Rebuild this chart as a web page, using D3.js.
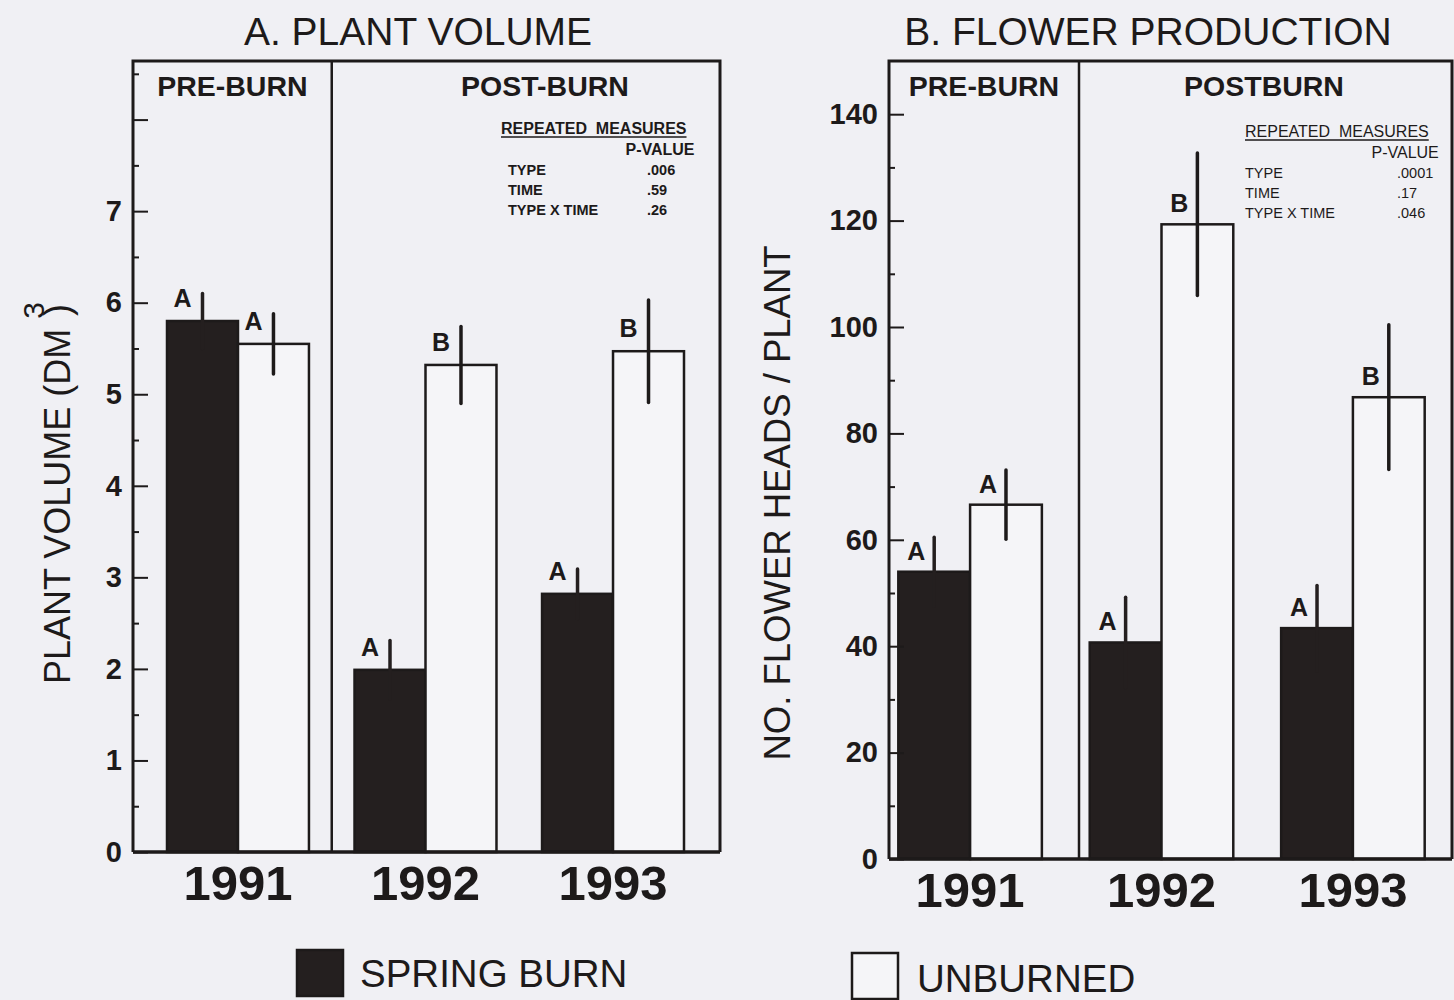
<!DOCTYPE html>
<html>
<head>
<meta charset="utf-8">
<script src="https://cdn.jsdelivr.net/npm/d3@7"></script>
<style>
  html, body { margin: 0; padding: 0; background: #f0f0f4; }
  svg { display: block; }
  text { font-family: "Liberation Sans", Arial, sans-serif; fill: #1d1a1a; }
</style>
</head>
<body>
<svg id="chart" width="1454" height="1000"></svg>
<script>
// ---- data -------------------------------------------------------------
const years = ["1991", "1992", "1993"];
const treatments = ["SPRING BURN", "UNBURNED"];

// A. plant volume (dm^3), means and standard errors
const volumeSpring      = [5.80, 1.99, 2.82];
const volumeSpringSE    = [0.30, 0.32, 0.27];
const volumeUnburned    = [5.55, 5.32, 5.47];
const volumeUnburnedSE  = [0.33, 0.42, 0.56];
const volumeLettersSpring   = ["A", "A", "A"];
const volumeLettersUnburned = ["A", "B", "B"];
const volumeTicks = [0, 1, 2, 3, 4, 5, 6, 7];

// B. flower heads per plant, means and standard errors
const flowerSpring      = [54.0, 40.7, 43.4];
const flowerSpringSE    = [6.5, 8.5, 8.0];
const flowerUnburned    = [66.6, 119.3, 86.8];
const flowerUnburnedSE  = [6.5, 13.4, 13.6];
const flowerLettersSpring   = ["A", "A", "A"];
const flowerLettersUnburned = ["A", "B", "B"];
const flowerTicks = [0, 20, 40, 60, 80, 100, 120, 140];

// repeated-measures ANOVA p-values
const effects = ["TYPE", "TIME", "TYPE X TIME"];
const volumePValues = [".006", ".59", ".26"];
const flowerPValues = [".0001", ".17", ".046"];

// ---- drawing ----------------------------------------------------------
const INK = "#1d1a1a";
const BAR_DARK = "#241f1f";
const BAR_LIGHT = "#f5f5f8";
const svg = d3.select("#chart");

function drawPanel(cfg) {
  const g = svg.append("g");
  const y = d3.scaleLinear().domain([0, cfg.yMax]).range([cfg.bottom, cfg.top]);
  const x = d3.scaleBand().domain(years).range(cfg.bandRange)
    .paddingInner(cfg.padInner).paddingOuter(cfg.padOuter);
  const xs = d3.scaleBand().domain(treatments).range([0, x.bandwidth()]);

  // title
  g.append("text").attr("x", cfg.titleX).attr("y", 45)
    .attr("text-anchor", "middle").style("font-size", "39px")
    .text(cfg.title);

  // rows of bars
  const rows = years.map((yr, i) => ([
    { year: yr, t: treatments[0], v: cfg.spring[i], se: cfg.springSE[i], letter: cfg.lettersSpring[i] },
    { year: yr, t: treatments[1], v: cfg.unburned[i], se: cfg.unburnedSE[i], letter: cfg.lettersUnburned[i] }
  ])).flat();
  const cx = d => x(d.year) + xs(d.t) + xs.bandwidth() / 2;

  g.selectAll("rect.bar").data(rows).join("rect")
    .attr("class", "bar")
    .attr("x", d => x(d.year) + xs(d.t))
    .attr("y", d => y(d.v))
    .attr("width", xs.bandwidth())
    .attr("height", d => y(0) - y(d.v))
    .attr("fill", d => d.t === treatments[0] ? BAR_DARK : BAR_LIGHT)
    .attr("stroke", INK)
    .attr("stroke-width", 2.5);

  // error bars (vertical lines only)
  g.selectAll("line.err").data(rows).join("line")
    .attr("class", "err")
    .attr("x1", cx).attr("x2", cx)
    .attr("y1", d => y(d.v - d.se))
    .attr("y2", d => y(d.v + d.se))
    .attr("stroke", d => d.t === treatments[0] ? BAR_DARK : INK)
    .attr("stroke-width", 3.5).attr("stroke-linecap", "round");

  // significance letters
  g.selectAll("text.letter").data(rows).join("text")
    .attr("class", "letter")
    .attr("x", d => cx(d) - cfg.letterDx)
    .attr("y", d => y(d.v) - cfg.letterDy)
    .attr("text-anchor", "end")
    .style("font-size", "25px").style("font-weight", "bold")
    .text(d => d.letter);

  // axis: major labelled ticks and minor ticks, pointing inward
  const major = d3.axisLeft(y).tickValues(cfg.ticks).tickSizeInner(-15).tickSizeOuter(0).tickPadding(11);
  const ax = g.append("g").attr("transform", `translate(${cfg.left},0)`).call(major);
  ax.select(".domain").remove();
  ax.selectAll("line").attr("stroke", INK).attr("stroke-width", 2);
  ax.selectAll("text").style("font-size", "29px").style("font-weight", "bold")
    .style("font-family", "'Liberation Sans', Arial, sans-serif").attr("fill", INK);
  ax.selectAll(".tick").filter(d => !cfg.labelled.includes(d)).select("text").remove();

  const minor = d3.axisLeft(y).tickValues(d3.range(cfg.minorStep, cfg.yMax, cfg.minorStep)
      .filter(v => !cfg.ticks.includes(+v.toFixed(4))))
    .tickSizeInner(-6).tickSizeOuter(0).tickFormat("");
  const mx = g.append("g").attr("transform", `translate(${cfg.left},0)`).call(minor);
  mx.select(".domain").remove();
  mx.selectAll("line").attr("stroke", INK).attr("stroke-width", 2);

  // frame and the pre/post-burn divider
  const frame = d3.path();
  frame.moveTo(cfg.left, cfg.bottom);
  frame.lineTo(cfg.left, cfg.top);
  frame.lineTo(cfg.right, cfg.top);
  frame.lineTo(cfg.right, cfg.bottom);
  g.append("path").attr("d", frame.toString()).attr("fill", "none")
    .attr("stroke", INK).attr("stroke-width", 3);
  g.append("line").attr("x1", cfg.left).attr("x2", cfg.right)
    .attr("y1", y(0)).attr("y2", y(0)).attr("stroke", INK).attr("stroke-width", 3.5);

  const divX = cfg.dividerX !== undefined ? cfg.dividerX
    : (x(years[0]) + x.bandwidth() + x(years[1])) / 2;
  g.append("line").attr("x1", divX).attr("x2", divX)
    .attr("y1", cfg.top).attr("y2", y(0)).attr("stroke", INK).attr("stroke-width", 2.5);

  g.append("text").attr("x", (cfg.left + divX) / 2).attr("y", 96)
    .attr("text-anchor", "middle").style("font-size", "28.5px").style("font-weight", "bold")
    .text("PRE-BURN");
  g.append("text").attr("x", cfg.postX).attr("y", 96)
    .attr("text-anchor", "middle").style("font-size", "28.5px").style("font-weight", "bold")
    .text(cfg.postLabel);

  // year labels
  g.selectAll("text.year").data(years).join("text")
    .attr("class", "year")
    .attr("x", d => x(d) + x.bandwidth() / 2)
    .attr("y", y(0) + 48)
    .attr("text-anchor", "middle")
    .style("font-size", "49px").style("font-weight", "bold")
    .text(d => d);

  // repeated-measures table
  const s = cfg.stats;
  const head = g.append("text").attr("x", s.x).attr("y", s.y)
    .style("font-size", "16px").style("font-weight", s.weight)
    .attr("xml:space", "preserve")
    .text("REPEATED  MEASURES");
  const hw = head.node().getComputedTextLength();
  g.append("line").attr("x1", s.x).attr("x2", s.x + hw)
    .attr("y1", s.y + 3).attr("y2", s.y + 3).attr("stroke", INK).attr("stroke-width", 1.3);
  g.append("text").attr("x", s.x + hw + s.pOverhang).attr("y", s.y + 21)
    .attr("text-anchor", "end").style("font-size", "16px").style("font-weight", s.weight)
    .text("P-VALUE");
  effects.forEach((e, i) => {
    g.append("text").attr("x", s.x + s.indent).attr("y", s.y + 41 + i * 20)
      .style("font-size", "14.5px").style("font-weight", s.weight).text(e);
    g.append("text").attr("x", s.valX).attr("y", s.y + 41 + i * 20)
      .style("font-size", "14.5px").style("font-weight", s.weight).text(cfg.pValues[i]);
  });
}

drawPanel({
  title: "A. PLANT VOLUME", titleX: 418,
  left: 133, right: 720, top: 61, bottom: 852,
  yMax: 8.64, ticks: [0, 1, 2, 3, 4, 5, 6, 7, 8], labelled: volumeTicks, minorStep: 0.5,
  bandRange: [143, 708], padInner: 0.243, padOuter: 0.128,
  spring: volumeSpring, springSE: volumeSpringSE,
  unburned: volumeUnburned, unburnedSE: volumeUnburnedSE,
  lettersSpring: volumeLettersSpring, lettersUnburned: volumeLettersUnburned,
  letterDx: 11, letterDy: 14,
  postLabel: "POST-BURN", postX: 545,
  pValues: volumePValues,
  stats: { x: 501, y: 134, indent: 7, valX: 647, pOverhang: 8, weight: "bold" }
});

drawPanel({
  title: "B. FLOWER PRODUCTION", titleX: 1148,
  left: 889, right: 1452, top: 61, bottom: 859,
  yMax: 150, ticks: flowerTicks, labelled: flowerTicks, minorStep: 10,
  bandRange: [883, 1440], padInner: 0.25, padOuter: 0.08,
  spring: flowerSpring, springSE: flowerSpringSE,
  unburned: flowerUnburned, unburnedSE: flowerUnburnedSE,
  lettersSpring: flowerLettersSpring, lettersUnburned: flowerLettersUnburned,
  letterDx: 9, letterDy: 12,
  postLabel: "POSTBURN", postX: 1264, dividerX: 1079,
  pValues: flowerPValues,
  stats: { x: 1245, y: 137, indent: 0, valX: 1397, pOverhang: 10, weight: "normal" }
});

// y-axis titles
const yt1 = svg.append("text")
  .attr("transform", "translate(70,493) rotate(-90)")
  .attr("text-anchor", "middle")
  .style("font-size", "36px");
yt1.append("tspan").text("PLANT VOLUME (DM");
yt1.append("tspan").attr("dx", 10).attr("dy", -26).style("font-size", "30px").text("3");
yt1.append("tspan").attr("dx", -14).attr("dy", 26).text(")");

svg.append("text")
  .attr("transform", "translate(790,503) rotate(-90)")
  .attr("text-anchor", "middle")
  .style("font-size", "36.5px")
  .text("NO. FLOWER HEADS / PLANT");

// legend
const legend = [
  { label: treatments[0], fill: BAR_DARK, x: 297, y: 950, tx: 360, ty: 987 },
  { label: treatments[1], fill: BAR_LIGHT, x: 852, y: 953, tx: 917, ty: 992 }
];
legend.forEach(l => {
  svg.append("rect").attr("x", l.x).attr("y", l.y).attr("width", 46).attr("height", 46)
    .attr("fill", l.fill).attr("stroke", INK).attr("stroke-width", 2.5);
  svg.append("text").attr("x", l.tx).attr("y", l.ty).style("font-size", "38.5px").text(l.label);
});
</script>
</body>
</html>
